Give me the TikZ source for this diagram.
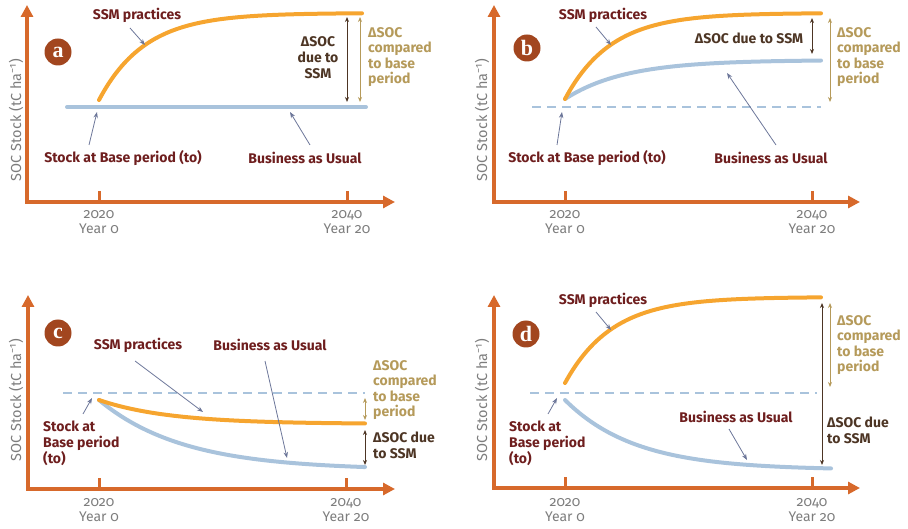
\documentclass[tikz,border=0pt]{standalone}
\usepackage{fontspec}
\setmainfont{Fira Sans}[Numbers=OldStyle]
\newfontfamily\circfont{Liberation Serif}
\usetikzlibrary{arrows.meta}
\definecolor{axiscol}{HTML}{D7692B}
\definecolor{orcurve}{HTML}{F6A52F}
\definecolor{bluecurve}{HTML}{A9C3DC}
\definecolor{ptrcol}{HTML}{6C7699}
\definecolor{maroon}{HTML}{6E1E1E}
\definecolor{tancol}{HTML}{B59A5A}
\definecolor{dbrown}{HTML}{4D3524}
\definecolor{circcol}{HTML}{A2461F}
\definecolor{graytxt}{HTML}{7D7D7D}
\tikzset{
 axisline/.style={draw=axiscol, line width=3.5pt, line join=miter,
   {Triangle[length=12pt,width=12pt]}-{Triangle[length=12pt,width=12pt]}},
 tickline/.style={draw=axiscol, line width=3pt},
 ticklbl/.style={text=graytxt, font=\fontsize{14}{14.5}\selectfont, align=center, inner sep=0pt},
 ssmcurve/.style={draw=orcurve, line width=4pt, line cap=round},
 baucurve/.style={draw=bluecurve, line width=4pt, line cap=round},
 baseline/.style={draw=bluecurve, line width=1.5pt, dash pattern=on 9pt off 6pt},
 lbl/.style={text=maroon, font=\bfseries\fontsize{14}{16}\selectfont, inner sep=0pt},
 dlbl/.style={text=dbrown, font=\bfseries\fontsize{14}{16}\selectfont, inner sep=0pt},
 tlbl/.style={text=tancol, font=\bfseries\fontsize{14}{15.5}\selectfont, inner sep=0pt, align=left, anchor=west},
 ptr/.style={draw=ptrcol, line width=0.8pt, -{Stealth[length=6pt,width=4.5pt]}},
 darr/.style={draw=dbrown, line width=1pt, {Stealth[length=5pt,width=4pt]}-{Stealth[length=5pt,width=4pt]}},
 tarr/.style={draw=tancol, line width=1pt, {Stealth[length=5pt,width=4pt]}-{Stealth[length=5pt,width=4pt]}},
 circ/.style={circle, fill=circcol, minimum size=27pt, inner sep=0pt, text=white, font=\circfont\bfseries\fontsize{22}{22}\selectfont},
 ylbl/.style={rotate=90, text=graytxt, font=\fontsize{14.5}{15}\selectfont, inner sep=0pt}
}
\begin{document}
\begin{tikzpicture}[x=1pt,y=-1pt]
\useasboundingbox (0,0) rectangle (908,529);
% ================= Panel a =================
\coordinate (aY) at (27,5); \coordinate (aO) at (27,202); \coordinate (aX) at (395,202);
\draw[axisline] (aY) -- (aO) -- (aX);
\coordinate (aT1) at (99,191); \coordinate (aT1b) at (99,202);
\coordinate (aT2) at (347,191); \coordinate (aT2b) at (347,202);
\draw[tickline] (aT1) -- (aT1b); \draw[tickline] (aT2) -- (aT2b);
\node[ticklbl] (aL1) at (99,222) {2020\\Year 0};
\node[ticklbl] (aL2) at (347,222) {2040\\Year 20};
\node[ylbl] (aYL) at (16,120) {SOC Stock (tC ha\textsuperscript{−1})};
\node[circ] (ca) at (58,52) {a};
\coordinate (aB1) at (67,107); \coordinate (aB2) at (366,107);
\draw[baucurve] (aB1) -- (aB2);
\draw[ssmcurve] plot[domain=99:362,samples=80,smooth] (\x,{13+87*exp(-(\x-99)/46)});
\node[lbl] (aSSM) at (137,15) {SSM practices};
\coordinate (aSSMs) at (130,28); \coordinate (aSSMe) at (145,45);
\draw[ptr] (aSSMs) -- (aSSMe);
\coordinate (aD1) at (347,17); \coordinate (aD2) at (347,102);
\draw[darr] (aD1) -- (aD2);
\node[dlbl, align=center] (aDL) at (318,58) {ΔSOC\\due to\\SSM};
\coordinate (aC1) at (360,17); \coordinate (aC2) at (360,102);
\draw[tarr] (aC1) -- (aC2);
\node[tlbl] (aCL) at (368,57) {ΔSOC\\compared\\to base\\period};
\node[lbl] (aStock) at (123,158) {Stock at Base period (to)};
\coordinate (aSts) at (89,145); \coordinate (aSte) at (97,112);
\draw[ptr] (aSts) -- (aSte);
\node[lbl] (aBau) at (305,158) {Business as Usual};
\coordinate (aBs) at (310,145); \coordinate (aBe) at (290,112);
\draw[ptr] (aBs) -- (aBe);
% ================= Panel b =================
\coordinate (bY) at (494,5); \coordinate (bO) at (494,202); \coordinate (bX) at (860,202);
\draw[axisline] (bY) -- (bO) -- (bX);
\coordinate (bT1) at (565,191); \coordinate (bT1b) at (565,202);
\coordinate (bT2) at (812,191); \coordinate (bT2b) at (812,202);
\draw[tickline] (bT1) -- (bT1b); \draw[tickline] (bT2) -- (bT2b);
\node[ticklbl] (bL1) at (565,222) {2020\\Year 0};
\node[ticklbl] (bL2) at (812,222) {2040\\Year 20};
\node[ylbl] (bYL) at (482,120) {SOC Stock (tC ha\textsuperscript{−1})};
\node[circ] (cb) at (527,48) {b};
\coordinate (bB1) at (532,107); \coordinate (bB2) at (821,107);
\draw[baseline] (bB1) -- (bB2);
\draw[baucurve] plot[domain=565:821,samples=80,smooth] (\x,{60+39*exp(-(\x-565)/60)});
\draw[ssmcurve] plot[domain=565:821,samples=80,smooth] (\x,{13+86*exp(-(\x-565)/46)});
\node[lbl] (bSSM) at (603,15) {SSM practices};
\coordinate (bSSMs) at (596,27); \coordinate (bSSMe) at (611,45);
\draw[ptr] (bSSMs) -- (bSSMe);
\coordinate (bD1) at (812,18); \coordinate (bD2) at (812,54);
\draw[darr] (bD1) -- (bD2);
\node[dlbl] (bDL) at (749,38) {ΔSOC due to SSM};
\coordinate (bC1) at (830,18); \coordinate (bC2) at (830,102);
\draw[tarr] (bC1) -- (bC2);
\node[tlbl] (bCL) at (837,57) {ΔSOC\\compared\\to base\\period};
\node[lbl] (bStock) at (587,158) {Stock at Base period (to)};
\coordinate (bSts) at (557,145); \coordinate (bSte) at (562,112);
\draw[ptr] (bSts) -- (bSte);
\node[lbl] (bBau) at (771,158) {Business as Usual};
\coordinate (bBs) at (776,145); \coordinate (bBe) at (727,73);
\draw[ptr] (bBs) -- (bBe);
% ================= Panel c =================
\coordinate (cY) at (28,295); \coordinate (cO) at (28,489); \coordinate (cX) at (395,489);
\draw[axisline] (cY) -- (cO) -- (cX);
\coordinate (cT1) at (99,478); \coordinate (cT1b) at (99,489);
\coordinate (cT2) at (346,478); \coordinate (cT2b) at (346,489);
\draw[tickline] (cT1) -- (cT1b); \draw[tickline] (cT2) -- (cT2b);
\node[ticklbl] (cL1) at (99,510) {2020\\Year 0};
\node[ticklbl] (cL2) at (346,510) {2040\\Year 20};
\node[ylbl] (cYL) at (16,400) {SOC Stock (tC ha\textsuperscript{−1})};
\node[circ] (cc) at (58,333) {c};
\coordinate (cB1) at (63,393); \coordinate (cB2) at (365,393);
\draw[baseline] (cB1) -- (cB2);
\draw[baucurve] plot[domain=99:365,samples=80,smooth] (\x,{470-70*exp(-(\x-99)/84)});
\draw[ssmcurve] plot[domain=99:365,samples=80,smooth] (\x,{424-24*exp(-(\x-99)/70)});
\node[lbl] (cSSM) at (138,345) {SSM practices};
\coordinate (cSSMs) at (135,361); \coordinate (cSSMe) at (203,412);
\draw[ptr] (cSSMs) -- (cSSMe);
\node[lbl] (cBau) at (270,345) {Business as Usual};
\coordinate (cBs) at (265,361); \coordinate (cBe) at (287,458);
\draw[ptr] (cBs) -- (cBe);
\node[lbl, align=left, anchor=west] (cStock) at (43,443) {Stock at\\Base period\\(to)};
\coordinate (cSts) at (83,414); \coordinate (cSte) at (92,398);
\draw[ptr] (cSts) -- (cSte);
\coordinate (cC1) at (365,398); \coordinate (cC2) at (365,420);
\draw[tarr] (cC1) -- (cC2);
\node[tlbl] (cCL) at (373,390) {ΔSOC\\compared\\to base\\period};
\coordinate (cD1) at (365,430); \coordinate (cD2) at (365,465);
\draw[darr] (cD1) -- (cD2);
\node[dlbl, align=left, anchor=west] (cDL) at (373,445) {ΔSOC due\\to SSM};
% ================= Panel d =================
\coordinate (dY) at (494,295); \coordinate (dO) at (494,488); \coordinate (dX) at (860,488);
\draw[axisline] (dY) -- (dO) -- (dX);
\coordinate (dT1) at (565,477); \coordinate (dT1b) at (565,488);
\coordinate (dT2) at (812,477); \coordinate (dT2b) at (812,488);
\draw[tickline] (dT1) -- (dT1b); \draw[tickline] (dT2) -- (dT2b);
\node[ticklbl] (dL1) at (565,510) {2020\\Year 0};
\node[ticklbl] (dL2) at (812,510) {2040\\Year 20};
\node[ylbl] (dYL) at (482,400) {SOC Stock (tC ha\textsuperscript{−1})};
\node[circ] (cd) at (526,334) {d};
\coordinate (dB1) at (530,393); \coordinate (dB2) at (817,393);
\draw[baseline] (dB1) -- (dB2);
\draw[baucurve] plot[domain=565:831,samples=80,smooth] (\x,{470-70*exp(-(\x-565)/70)});
\draw[ssmcurve] plot[domain=565:821,samples=80,smooth] (\x,{297+86*exp(-(\x-565)/47)});
\node[lbl] (dSSM) at (603,300) {SSM practices};
\coordinate (dSSMs) at (596,312); \coordinate (dSSMe) at (611,330);
\draw[ptr] (dSSMs) -- (dSSMe);
\node[lbl] (dBau) at (736,417) {Business as Usual};
\coordinate (dBs) at (729,429); \coordinate (dBe) at (747,460);
\draw[ptr] (dBs) -- (dBe);
\node[lbl, align=left, anchor=west] (dStock) at (509,443) {Stock at\\Base period\\(to)};
\coordinate (dSts) at (548,414); \coordinate (dSte) at (557,398);
\draw[ptr] (dSts) -- (dSte);
\coordinate (dD1) at (822,303); \coordinate (dD2) at (822,465);
\draw[darr] (dD1) -- (dD2);
\node[dlbl, align=left, anchor=west] (dDL) at (827,430) {ΔSOC due\\to SSM};
\coordinate (dC1) at (830,303); \coordinate (dC2) at (830,387);
\draw[tarr] (dC1) -- (dC2);
\node[tlbl] (dCL) at (837,345) {ΔSOC\\compared\\to base\\period};
\end{tikzpicture}
\end{document}
